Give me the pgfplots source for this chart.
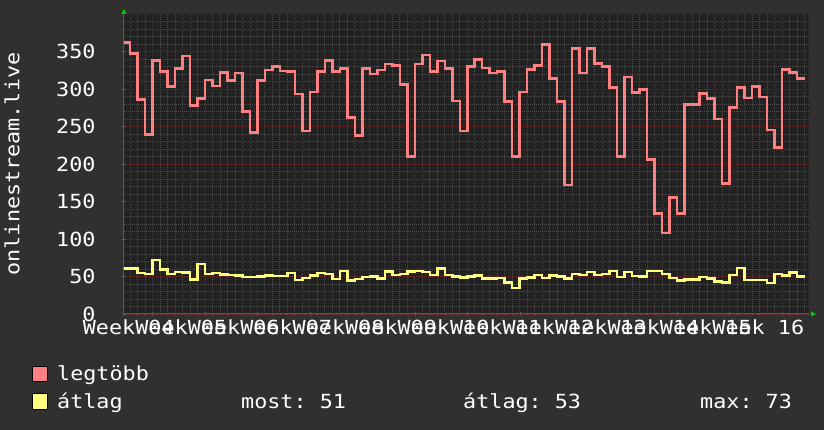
\documentclass[border=0pt]{standalone}
\usepackage{pgfplots}
\pgfplotsset{compat=1.18}
\usepackage{pgfplotstable}
\usepackage{fontspec}
\setmainfont[FakeStretch=1.12]{DejaVu Sans Mono}

\definecolor{bgout}{HTML}{303030}
\definecolor{canvas}{HTML}{222222}
\definecolor{gridminor}{HTML}{4C4C4C}
\definecolor{gridmajor}{HTML}{682E2E}
\definecolor{axisgray}{HTML}{5A5A5A}
\definecolor{maxcol}{HTML}{FF8080}
\definecolor{avgcol}{HTML}{FFFF80}
\definecolor{arrowgreen}{HTML}{00CC00}

% napi értékek: legtöbb (max) és átlag
\pgfplotstableread{
day max avg
0 362 60.5
1 347 60.5
2 286 54.8
3 239 53.5
4 338 72
5 323 59.3
6 303 53.5
7 327 56.1
8 344 55.2
9 278 46.3
10 287 66.8
11 312 53
12 304 54.8
13 322 52.6
14 311 51.7
15 321 51.3
16 270 49
17 242 49
18 311 50.3
19 325 51.3
20 330 50.8
21 324 50.8
22 323 54.4
23 293 45
24 244 48.1
25 296 51.3
26 323 54.4
27 338 53.5
28 323 46.8
29 327 57
30 262 44.6
31 238 46.8
32 327 49
33 320 49.9
34 325 47.2
35 333 56.6
36 331 51.7
37 306 53.5
38 210 56.6
39 333 57.5
40 345 56.1
41 323 51.7
42 337 60.6
43 327 51.7
44 284 50.3
45 244 48.6
46 330 50.3
47 339 51.3
48 328 47.2
49 321 47.2
50 323 48.1
51 283 42.3
52 210 34.8
53 296 47.2
54 326 48.6
55 331 52.1
56 359 48.1
57 314 51.3
58 283 50.3
59 172 47.2
60 354 53.5
61 321 51.7
62 354 56.1
63 334 51.7
64 330 53.5
65 302 57.5
66 210 49.5
67 316 55.7
68 295 50.8
69 299 49.9
70 206 57.5
71 134 57.5
72 108 53
73 155 47.7
74 134 44.6
75 279 46.3
76 279 46.3
77 294 49.5
78 287 47.2
79 260 43.2
80 174 41.9
81 275 52.1
82 302 61.5
83 288 45.5
84 303 45.5
85 289 45.5
86 245 41.4
87 222 53.5
88 326 51.3
89 322 55.2
90 314 50
91 314 50
}\stream

\begin{document}
\frenchspacing
\begin{tikzpicture}[font=\fontsize{19.5}{22}\selectfont]
\useasboundingbox (0,0) rectangle (824bp,430bp);
\fill[bgout] (0,0) rectangle (824bp,430bp);
\begin{axis}[
  at={(124bp,116bp)}, anchor=south west,
  scale only axis, width=685bp, height=300bp,
  xmin=0.2, xmax=91.6, ymin=0, ymax=400,
  axis background/.style={fill=canvas},
  axis lines*=left,
  axis line style={draw=axisgray, line width=1bp},
  font=\fontsize{19.5}{22}\selectfont,
  /pgf/number format/assume math mode=true,
  ticklabel style={text=white},
  ytick={0,50,...,350},
  minor ytick={10,20,...,390},
  xtick={4,11,...,88}, xticklabels={},
  minor xtick={1,2,...,91},
  extra x ticks={0.5,7.5,...,84.5},
  extra x tick labels={Week 04,Week 05,Week 06,Week 07,Week 08,Week 09,Week 10,Week 11,Week 12,Week 13,Week 14,Week 15,Week 16},
  extra x tick style={grid=none, major tick length=0pt},
  grid=both,
  major grid style={draw=gridmajor, dash pattern=on 1bp off 1bp, line width=0.8bp},
  minor grid style={draw=gridminor, dash pattern=on 1bp off 1bp, line width=0.8bp},
  tick style={draw=axisgray},
  major tick length=4bp, minor tick length=2bp, tick align=center,
  yticklabel style={xshift=-23bp},
  xticklabel style={yshift=-2.5bp, xshift=2.5bp},
  ylabel={onlinestream.live},
  every axis y label/.style={at={(axis description cs:-0.1635,0.5)}, rotate=90, anchor=center, text=white},
]
\addplot[const plot mark left, draw=maxcol, line width=2.5bp] table[x=day, y=max] {\stream};
\addplot[const plot mark left, draw=avgcol, line width=2.5bp] table[x=day, y=avg] {\stream};
\end{axis}
% zöld nyilak
\fill[arrowgreen] (121.5bp,416bp) -- (126.5bp,416bp) -- (124bp,421bp) -- cycle;
\fill[arrowgreen] (811bp,118.5bp) -- (811bp,113.5bp) -- (816bp,116bp) -- cycle;
% jelmagyarázat
\filldraw[fill=maxcol, draw=black, line width=0.8bp] (32bp,49bp) rectangle (47bp,64bp);
\node[anchor=base west, inner sep=0, text=white] at (57bp,49.5bp) {legtöbb};
\filldraw[fill=avgcol, draw=black, line width=0.8bp] (32bp,21bp) rectangle (47bp,37bp);
\node[anchor=base west, inner sep=0, text=white] at (57bp,21.5bp) {átlag};
\node[anchor=base west, inner sep=0, text=white] at (241bp,21.5bp) {most: 51};
\node[anchor=base west, inner sep=0, text=white] at (463bp,21.5bp) {átlag: 53};
\node[anchor=base west, inner sep=0, text=white] at (700bp,21.5bp) {max: 73};
\end{tikzpicture}
\end{document}
